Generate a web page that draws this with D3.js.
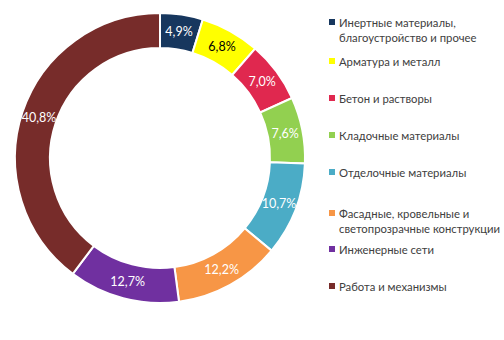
<!DOCTYPE html>
<html><head><meta charset="utf-8">
<script src="https://cdn.jsdelivr.net/npm/d3@7"></script>
<style>body{margin:0;background:#fff}svg{display:block}</style>
</head><body>
<script>
const categories = [
  ["Инертные материалы,", "благоустройство и прочее"],
  ["Арматура и металл"],
  ["Бетон и растворы"],
  ["Кладочные материалы"],
  ["Отделочные материалы"],
  ["Фасадные, кровельные и", "светопрозрачные конструкции"],
  ["Инженерные сети"],
  ["Работа и механизмы"]
];
const values = [4.9, 6.8, 7.0, 7.6, 10.7, 12.2, 12.7, 40.8];
const labels = ["4,9%", "6,8%", "7,0%", "7,6%", "10,7%", "12,2%", "12,7%", "40,8%"];
const colors = ["#17375E", "#FFFF00", "#E0284F", "#92D050", "#4BACC6", "#F79646", "#7030A0", "#772C2A"];
const labelColors = ["#fff", "#000", "#fff", "#fff", "#fff", "#fff", "#fff", "#fff"];
const legendY = [22, 61, 98, 135, 172, 213, 249, 286];

const W = 504, H = 340;
const svg = d3.select("body").append("svg").attr("width", W).attr("height", H);
const cx = 160, cy = 158, R = 145, r = 110;

const pie = d3.pie().sort(null).value(d => d);
const arcs = pie(values);
const arc = d3.arc().innerRadius(r).outerRadius(R);
const labelArc = d3.arc().innerRadius((r + R) / 2).outerRadius((r + R) / 2);

const g = svg.append("g").attr("transform", `translate(${cx},${cy})`);
g.selectAll("path").data(arcs).join("path")
  .attr("d", arc)
  .attr("fill", (d, i) => colors[i])
  .attr("stroke", "#fff").attr("stroke-width", 2);

g.selectAll("text").data(arcs).join("text")
  .attr("transform", d => `translate(${labelArc.centroid(d)})`)
  .attr("text-anchor", "middle").attr("dominant-baseline", "central")
  .attr("font-family", "Lato, 'Open Sans', sans-serif").attr("font-size", 12.5)
  .attr("fill", (d, i) => labelColors[i])
  .text((d, i) => labels[i]);

const lg = svg.append("g");
categories.forEach((lines, i) => {
  const y = legendY[i];
  lg.append("rect").attr("x", 329).attr("y", y - 3).attr("width", 6).attr("height", 6).attr("fill", colors[i]);
  lines.forEach((t, j) => {
    lg.append("text").attr("x", 339).attr("y", y + j * 15)
      .attr("dominant-baseline", "central")
      .attr("font-family", "Lato, 'Open Sans', sans-serif").attr("font-size", 11.3)
      .attr("fill", "#404040").text(t);
  });
});
</script>
</body></html>
